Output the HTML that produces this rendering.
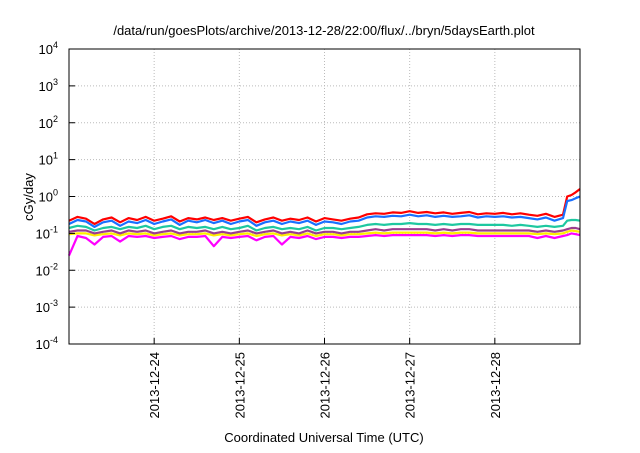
<!DOCTYPE html>
<html><head><meta charset="utf-8">
<style>
body{margin:0;background:#fff;font-family:"Liberation Sans",sans-serif;}
svg text{font-family:"Liberation Sans",sans-serif;fill:#000;}
</style></head>
<body>
<svg id="chart" width="640" height="448" viewBox="0 0 640 448" xmlns="http://www.w3.org/2000/svg">
<rect width="640" height="448" fill="#fff"/>
<text x="324" y="35" font-size="13" text-anchor="middle">/data/run/goesPlots/archive/2013-12-28/22:00/flux/../bryn/5daysEarth.plot</text>
<text transform="translate(33,197) rotate(-90)" font-size="13" text-anchor="middle">cGy/day</text>
<text x="324" y="442" font-size="13" text-anchor="middle">Coordinated Universal Time (UTC)</text>
<g id="grid"></g>
<g id="series"></g>
<rect x="69" y="49" width="511" height="295" fill="none" stroke="#000" stroke-width="1"/>
<g id="ticks"></g>
</svg>
<script>
const yExponents=[4,3,2,1,0,-1,-2,-3,-4];
const xTickLabels=["2013-12-24","2013-12-25","2013-12-26","2013-12-27","2013-12-28"];
const xTickDays=[1,2,3,4,5];
const times=[0,0.1,0.2,0.3,0.4,0.5,0.6,0.7,0.8,0.9,1.0,1.1,1.2,1.3,1.4,1.5,1.6,1.7,1.8,1.9,2.0,2.1,2.2,2.3,2.4,2.5,2.6,2.7,2.8,2.9,3.0,3.1,3.2,3.3,3.4,3.5,3.6,3.7,3.8,3.9,4.0,4.1,4.2,4.3,4.4,4.5,4.6,4.7,4.8,4.9,5.0,5.1,5.2,5.3,5.4,5.5,5.6,5.7,5.8,5.85,5.9,5.95,6.0];
const red=[0.22,0.28,0.25,0.18,0.24,0.27,0.2,0.26,0.23,0.28,0.22,0.25,0.29,0.21,0.26,0.24,0.27,0.23,0.26,0.22,0.25,0.28,0.2,0.24,0.27,0.22,0.25,0.23,0.27,0.21,0.26,0.24,0.22,0.25,0.27,0.33,0.35,0.34,0.37,0.36,0.4,0.36,0.38,0.35,0.37,0.34,0.36,0.38,0.33,0.35,0.34,0.36,0.33,0.35,0.32,0.3,0.34,0.28,0.32,1.0,1.1,1.3,1.6];
const blue=[0.18,0.23,0.21,0.15,0.2,0.22,0.16,0.21,0.19,0.23,0.18,0.21,0.24,0.17,0.22,0.2,0.23,0.19,0.22,0.18,0.21,0.23,0.16,0.2,0.22,0.18,0.21,0.19,0.22,0.17,0.21,0.2,0.18,0.21,0.22,0.27,0.29,0.28,0.3,0.29,0.32,0.29,0.31,0.28,0.3,0.28,0.29,0.31,0.27,0.29,0.28,0.29,0.27,0.28,0.26,0.24,0.27,0.22,0.26,0.75,0.8,0.9,1.0];
const teal=[0.14,0.16,0.15,0.12,0.14,0.15,0.13,0.15,0.14,0.16,0.13,0.15,0.16,0.13,0.15,0.14,0.15,0.13,0.15,0.13,0.14,0.16,0.12,0.14,0.15,0.13,0.14,0.13,0.15,0.12,0.14,0.14,0.13,0.14,0.15,0.17,0.18,0.17,0.18,0.18,0.19,0.18,0.18,0.17,0.18,0.17,0.18,0.18,0.17,0.17,0.17,0.17,0.16,0.17,0.16,0.15,0.16,0.15,0.16,0.22,0.23,0.23,0.22];
const purple=[0.11,0.12,0.12,0.1,0.11,0.12,0.1,0.12,0.11,0.12,0.1,0.11,0.12,0.1,0.11,0.11,0.12,0.1,0.11,0.1,0.11,0.12,0.1,0.11,0.12,0.1,0.11,0.1,0.12,0.1,0.11,0.11,0.1,0.11,0.11,0.12,0.13,0.12,0.13,0.13,0.13,0.13,0.13,0.12,0.13,0.12,0.13,0.13,0.12,0.12,0.12,0.12,0.12,0.12,0.12,0.11,0.12,0.11,0.12,0.13,0.14,0.14,0.13];
const yellow=[0.095,0.1,0.1,0.088,0.095,0.1,0.088,0.1,0.095,0.1,0.088,0.095,0.1,0.088,0.095,0.095,0.1,0.088,0.095,0.088,0.095,0.1,0.085,0.095,0.1,0.088,0.095,0.088,0.1,0.085,0.095,0.095,0.088,0.095,0.095,0.1,0.105,0.1,0.105,0.105,0.105,0.105,0.105,0.1,0.105,0.1,0.105,0.105,0.1,0.1,0.1,0.1,0.1,0.1,0.1,0.095,0.1,0.095,0.1,0.11,0.12,0.115,0.11];
const magenta=[0.025,0.085,0.075,0.05,0.08,0.085,0.06,0.085,0.08,0.085,0.075,0.08,0.085,0.07,0.08,0.08,0.085,0.045,0.08,0.075,0.08,0.085,0.065,0.08,0.085,0.05,0.08,0.075,0.085,0.07,0.08,0.08,0.075,0.08,0.08,0.085,0.09,0.085,0.09,0.09,0.09,0.09,0.09,0.085,0.09,0.085,0.09,0.09,0.085,0.085,0.085,0.085,0.085,0.085,0.085,0.075,0.085,0.075,0.085,0.09,0.1,0.095,0.09];
const seriesList=[["magenta",magenta,"#ff00ff"],["yellow",yellow,"#ffee00"],["purple",purple,"#9b3d8f"],["teal",teal,"#1ec8a0"],["red",red,"#ff0000"],["blue",blue,"#1a70ff"]];
const X0=69,X1=580,Y0=49,Y1=344;
const xScale=d=>X0+(X1-X0)*d/6;
const yScale=v=>Y0+(4-Math.log10(v))*(Y1-Y0)/8;
const NS="http://www.w3.org/2000/svg";
const grid=document.getElementById("grid"),ticks=document.getElementById("ticks"),sg=document.getElementById("series");
yExponents.forEach(e=>{
  const y=Y0+(4-e)*(Y1-Y0)/8;
  if(e<4&&e>-4){const l=document.createElementNS(NS,"line");
    
    
    l.setAttribute("x1",X0);l.setAttribute("x2",X1);l.setAttribute("y1",y);l.setAttribute("y2",y);
    l.setAttribute("stroke","#bbb");l.setAttribute("stroke-dasharray","1,2");grid.appendChild(l);}
  const t=document.createElementNS(NS,"text");
  
  
  t.setAttribute("x",58);t.setAttribute("y",y+5);t.setAttribute("font-size","13");t.setAttribute("text-anchor","end");
  t.innerHTML='10<tspan dy="-6" font-size="9">'+e+'</tspan>';ticks.appendChild(t);
  const tk=document.createElementNS(NS,"line");
  
  
  tk.setAttribute("x1",X0);tk.setAttribute("x2",X0+6);tk.setAttribute("y1",y);tk.setAttribute("y2",y);tk.setAttribute("stroke","#000");ticks.appendChild(tk);
});
xTickDays.forEach((d,i)=>{
  const x=xScale(d);
  const l=document.createElementNS(NS,"line");
  
  
  l.setAttribute("x1",x);l.setAttribute("x2",x);l.setAttribute("y1",Y0);l.setAttribute("y2",Y1);
  l.setAttribute("stroke","#bbb");l.setAttribute("stroke-dasharray","1,2");grid.appendChild(l);
  const tk=document.createElementNS(NS,"line");
  
  
  tk.setAttribute("x1",x);tk.setAttribute("x2",x);tk.setAttribute("y1",Y1);tk.setAttribute("y2",Y1-6);tk.setAttribute("stroke","#000");ticks.appendChild(tk);
  const t=document.createElementNS(NS,"text");
  
  
  t.setAttribute("transform","translate("+(x+5)+",352) rotate(-90)");t.setAttribute("font-size","13");t.setAttribute("text-anchor","end");
  t.textContent=xTickLabels[i];ticks.appendChild(t);
});
seriesList.forEach(s=>{
  const p=document.createElementNS(NS,"polyline");
  
  
  p.setAttribute("points",s[1].map((v,i)=>xScale(times[i]).toFixed(1)+","+yScale(v).toFixed(1)).join(" "));
  p.setAttribute("fill","none");p.setAttribute("stroke",s[2]);p.setAttribute("stroke-width","2.2");p.setAttribute("stroke-linejoin","round");
  sg.appendChild(p);
});
</script>
</body></html>
